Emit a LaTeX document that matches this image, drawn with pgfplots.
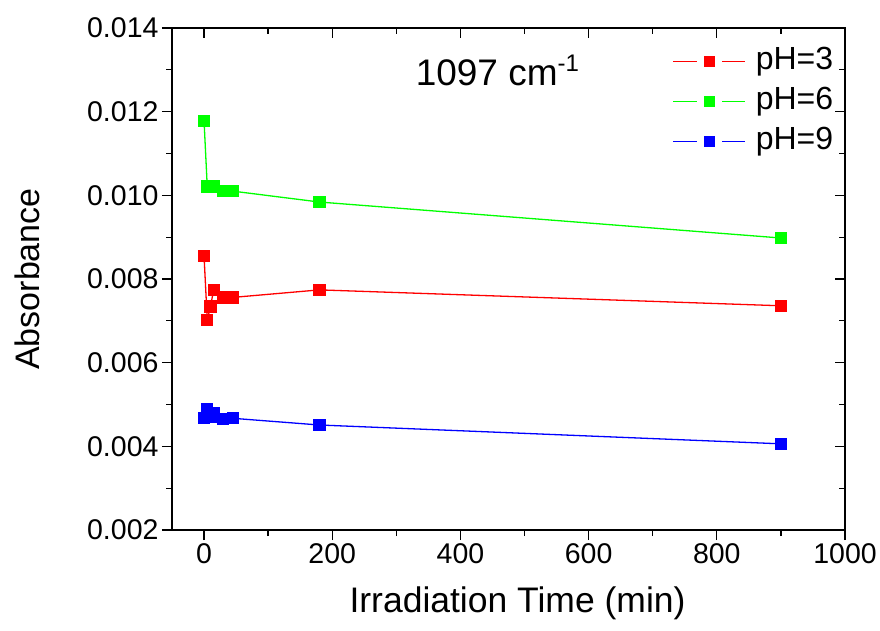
\documentclass[border=0pt]{standalone}
\usepackage{pgfplots}
\pgfplotsset{compat=1.18}
\usepackage{fontspec}
\setmainfont{Liberation Sans}
\pgfplotsset{
  commonax/.style={
    scale only axis,
    width=673pt, height=502pt,
    at={(172pt,100pt)}, anchor=south west,
    xmin=-50, xmax=1000, ymin=0.002, ymax=0.014,
    xtick={0,200,...,1000}, minor xtick={100,300,500,700,900},
    ytick={0.002,0.004,...,0.0141}, minor ytick={0.003,0.005,...,0.0135},
    major tick length=10pt, minor tick length=6pt,
    every tick/.style={black, line width=1.3pt},
    axis line style={line width=1.4pt},
    scaled y ticks=false, scaled x ticks=false,
  },
  mylegimg/.style={
    legend image code/.code={
      \fill[fill=#1, draw=none] (0pt,-0.8pt) rectangle (23.5pt,0.8pt);
      \fill[fill=#1, draw=none] (48.5pt,-0.8pt) rectangle (72pt,0.8pt);
      \fill[fill=#1, draw=none] (30.5pt,-5.5pt) rectangle (41.5pt,5.5pt);
      \path (82pt,0pt);
    }
  }
}
\begin{document}
\begin{tikzpicture}[x=1pt,y=1pt]
\path[use as bounding box] (0,0) rectangle (880,630);
\begin{axis}[
  commonax,
  xtick pos=bottom, ytick pos=left,
  tick align=outside,
  /pgf/number format/assume math mode=true,
  yticklabel style={/pgf/number format/.cd, fixed, fixed zerofill, precision=3},
  xticklabel style={/pgf/number format/.cd, 1000 sep={}},
  ticklabel style={font=\fontsize{28.5}{30}\selectfont},
  xlabel={Irradiation Time (min)}, ylabel={Absorbance},
  xlabel style={font=\fontsize{35.5}{38}\selectfont, at={(axis description cs:0.5134,-0.1653)}, anchor=base},
  ylabel style={font=\fontsize{34}{36}\selectfont, at={(axis description cs:-0.2147,0.5)}, anchor=center},
  legend style={draw=none, fill=none, at={(axis description cs:0.7444,0.9626)}, anchor=north west,
    inner sep=0pt, font=\fontsize{32}{34}\selectfont, row sep=11pt,
    nodes={inner sep=0pt, text height=23pt, text depth=6pt}},
  legend cell align=left,
  every axis plot/.append style={line width=1.3pt, mark=square*, mark size=5.5pt},
]
\addplot[color=red, mark options={fill=red, draw=red}, mylegimg=red] coordinates {
 (0,0.00855) (5,0.00702) (10,0.00734) (15,0.00774) (30,0.00756) (45,0.00756) (180,0.00774) (900,0.00736)};
\addlegendentry{pH=3}
\addplot[color=green, mark options={fill=green, draw=green}, mylegimg=green] coordinates {
 (0,0.01178) (5,0.01021) (10,0.01023) (15,0.01021) (30,0.01010) (45,0.01010) (180,0.00984) (900,0.00898)};
\addlegendentry{pH=6}
\addplot[color=blue, mark options={fill=blue, draw=blue}, mylegimg=blue] coordinates {
 (0,0.00467) (5,0.00489) (10,0.00470) (15,0.00480) (30,0.00465) (45,0.00467) (180,0.00451) (900,0.00406)};
\addlegendentry{pH=9}
\node[font=\fontsize{37}{40}\selectfont, anchor=base west, inner sep=0pt] at (axis cs:330,0.01262) {1097 cm\raisebox{0.75ex}{\fontsize{24}{26}\selectfont -1}};
\end{axis}
\begin{axis}[
  commonax,
  xtick pos=top, ytick pos=right,
  tick align=inside,
  xticklabels={}, yticklabels={},
]
\end{axis}
\end{tikzpicture}
\end{document}
